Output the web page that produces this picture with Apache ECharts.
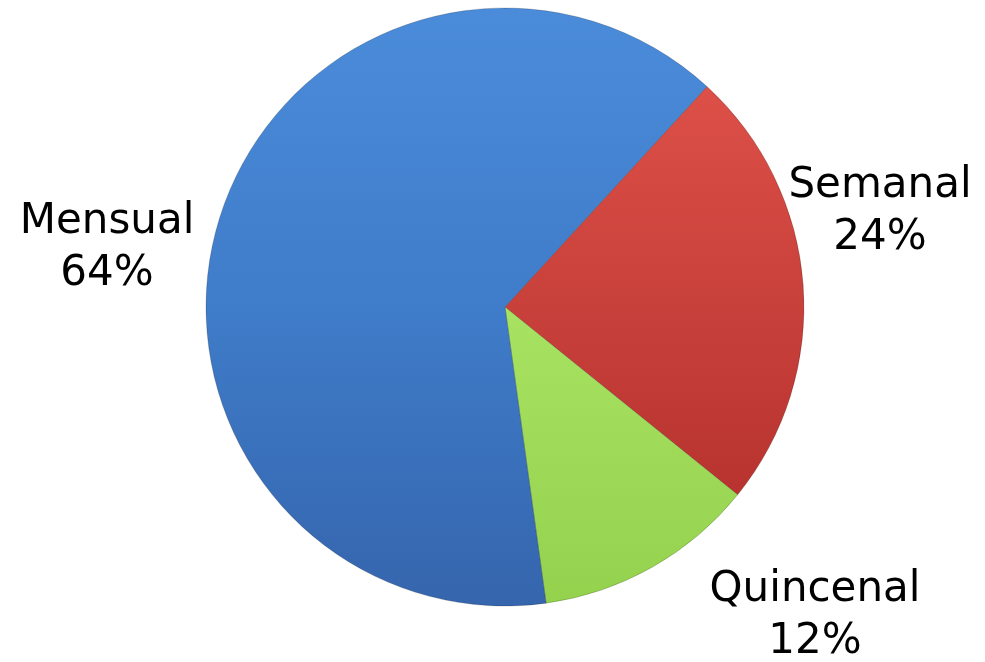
<!DOCTYPE html>
<html>
<head>
<meta charset="utf-8">
<script src="https://cdn.jsdelivr.net/npm/echarts@6/dist/echarts.min.js"></script>
<style>html,body{margin:0;padding:0;background:#fff}#c{width:985px;height:662px}</style>
</head>
<body>
<div id="c"></div>
<script>
var categories = ['Semanal', 'Quincenal', 'Mensual'];
var values = [24, 12, 64];
var labelTexts = ['Semanal\n24%', 'Quincenal\n12%', 'Mensual\n64%'];

var fills = [
  {type:'linear',x:0,y:0,x2:0,y2:1,colorStops:[{offset:0,color:'#dc5048'},{offset:1,color:'#b8332f'}]},
  {type:'linear',x:0,y:0,x2:0,y2:1,colorStops:[{offset:0,color:'#a8e262'},{offset:1,color:'#94d24e'}]},
  {type:'linear',x:0,y:0,x2:0,y2:1,colorStops:[{offset:0,color:'#4b8cda'},{offset:0.5,color:'#3f7cc9'},{offset:1,color:'#3565ad'}]}
];
var labelPos = [[880, 212], [815, 616], [107, 248]];

var chart = echarts.init(document.getElementById('c'));
chart.setOption({
  animation: false,
  series: [{
    type: 'pie',
    center: [505, 307],
    radius: 299,
    startAngle: 47.5,
    clockwise: true,
    label: {
      show: true,
      position: 'outside',
      formatter: function (p) { return labelTexts[p.dataIndex]; },
      fontFamily: 'DejaVu Sans',
      fontSize: 42,
      lineHeight: 52,
      color: '#000',
      align: 'center',
      overflow: 'none',
      width: 300
    },
    labelLine: { show: false },
    labelLayout: function (p) {
      var pos = labelPos[p.dataIndex];
      return { x: pos[0], y: pos[1], align: 'center', verticalAlign: 'middle' };
    },
    itemStyle: {
      borderColor: 'rgba(0,0,0,0.18)',
      borderWidth: 1
    },
    data: categories.map(function (c, i) {
      return { name: c, value: values[i], itemStyle: { color: fills[i] } };
    })
  }]
});
</script>
</body>
</html>
